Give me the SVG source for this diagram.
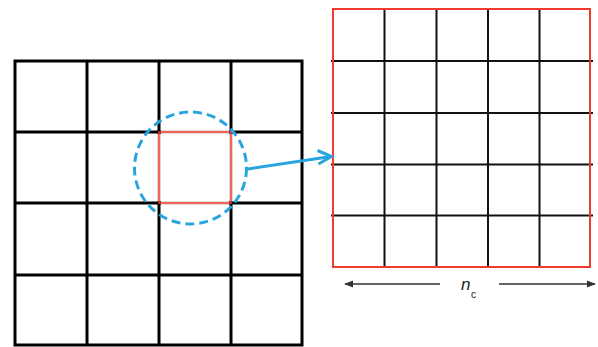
<svg xmlns="http://www.w3.org/2000/svg" width="598" height="347" viewBox="0 0 598 347">
<defs>
<style>
.g{stroke:#000;stroke-width:3;fill:none}
.g2{stroke:#111;stroke-width:2;fill:none}
.red{stroke:#f03c2e;fill:none}
.dim{stroke:#333;stroke-width:1.3;fill:none}
.lbl{font-family:"Liberation Sans",Arial,sans-serif;fill:#222}
</style>
<marker id="tri" viewBox="0 0 10 10" refX="9" refY="5" markerWidth="9" markerHeight="9" markerUnits="userSpaceOnUse" orient="auto-start-reverse">
<path d="M0,1 L10,5 L0,9 z" fill="#333"/>
</marker>
</defs>
<rect width="598" height="347" fill="#fff"/>
<g id="coarse-grid">
<rect class="g" x="15" y="61" width="287" height="284"/>
<path class="g" d="M87,61V345M159,61V345M231,61V345M15,132H302M15,203H302M15,275H302"/>
<path d="M161,132H229M161,203H229M159,134V201M231,134V201" stroke="#fff" stroke-width="3.4" fill="none"/>
<rect class="red" stroke-width="1.6" x="159" y="132" width="72" height="71"/>
</g>
<g id="zoom-circle">
<circle cx="190.5" cy="168" r="56" fill="none" stroke="#29a5de" stroke-width="3" stroke-dasharray="9 5"/>
</g>
<g id="fine-grid">
<path class="g2" d="M384.5,9V267M436.5,9V267M488,9V267M539.5,9V267"/>
<path class="g2" d="M331,61H593M331,215.5H593"/>
<path class="g2" stroke-width="2.6" d="M331,113H593M331,164.5H593"/>
<rect class="red" stroke-width="2" x="333" y="9" width="257" height="258"/>
</g>
<g id="connectors">
<path d="M248,169 L331,156.5" stroke="#29a5de" stroke-width="3" fill="none"/>
<path d="M317.5,150.5 L331.5,156.5 L318.5,164" stroke="#29a5de" stroke-width="3" fill="none" stroke-linejoin="miter"/>
<path class="dim" d="M440,284H345" marker-end="url(#tri)"/>
<path class="dim" d="M499,284H595" marker-end="url(#tri)"/>
</g>
<g id="label-nc">
<text class="lbl" x="461" y="290" font-size="17" font-style="italic">n</text>
<text class="lbl" x="471" y="298" font-size="10">c</text>
</g>
</svg>
